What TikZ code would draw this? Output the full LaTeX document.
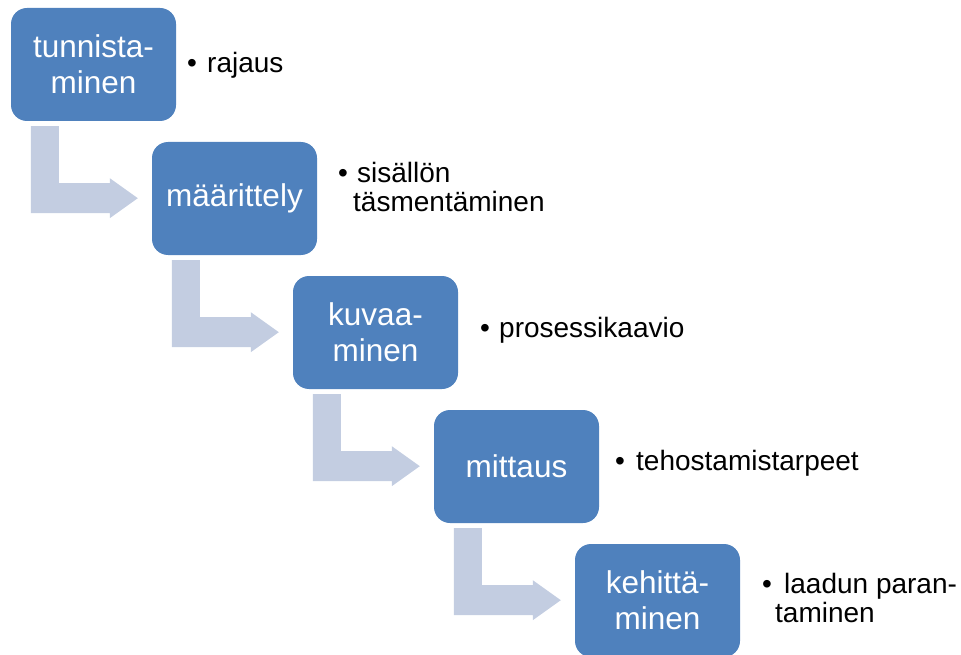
\documentclass[tikz,border=0pt]{standalone}
\usepackage{fontspec}
\setmainfont{Liberation Sans}
\definecolor{boxblue}{HTML}{4F81BD}
\definecolor{arrowblue}{HTML}{C3CDE1}
\tikzset{
  stepbox/.style={rounded corners=16pt, fill=boxblue, draw=none, minimum width=165pt, minimum height=113pt,
    text=white, align=center, inner sep=0pt, font=\fontsize{31.5}{36}\selectfont},
  bent/.style={fill=arrowblue, draw=none},
  bul/.style={anchor=base, inner sep=0pt, font=\fontsize{28}{30}\selectfont},
  note/.style={anchor=base west, inner sep=0pt, font=\fontsize{28}{30}\selectfont}
}
\begin{document}
\begin{tikzpicture}[x=1pt,y=-1pt]
\useasboundingbox (0,0) rectangle (961,655);
% boxes
\node[stepbox] (b1) at (93.5,64.5) {tunnista-\\minen};
\node[stepbox] (b2) at (234.5,198.5) {määrittely};
\node[stepbox] (b3) at (375.5,332.5) {kuvaa-\\minen};
\node[stepbox] (b4) at (516.5,466.5) {mittaus};
\node[stepbox] (b5) at (657.5,600.5) {kehittä-\\minen};
% bent arrows
\foreach \i in {1,2,3,4}{
  \begin{scope}[shift={(b\i.south west)}]
    \fill[bent] (20,5) -- (48,5) -- (48,62) -- (99,62) -- (99,57) -- (127,77) -- (99,97) -- (99,92) -- (20,92) -- cycle;
  \end{scope}
}
% notes
\node[bul] (u1) at (192,73) {•};
\node[note] (t1) at (207,73) {rajaus};
\node[bul] (u2) at (343,183) {•};
\node[note] (t2a) at (357,183) {sisällön};
\node[note] (t2b) at (353,212) {täsmentäminen};
\node[bul] (u3) at (485,337) {•};
\node[note] (t3) at (499,337) {prosessikaavio};
\node[bul] (u4) at (620,470) {•};
\node[note] (t4) at (636,470) {tehostamistarpeet};
\node[bul] (u5) at (767,593) {•};
\node[note] (t5a) at (784,593) {laadun paran-};
\node[note] (t5b) at (775,622) {taminen};
\end{tikzpicture}
\end{document}
